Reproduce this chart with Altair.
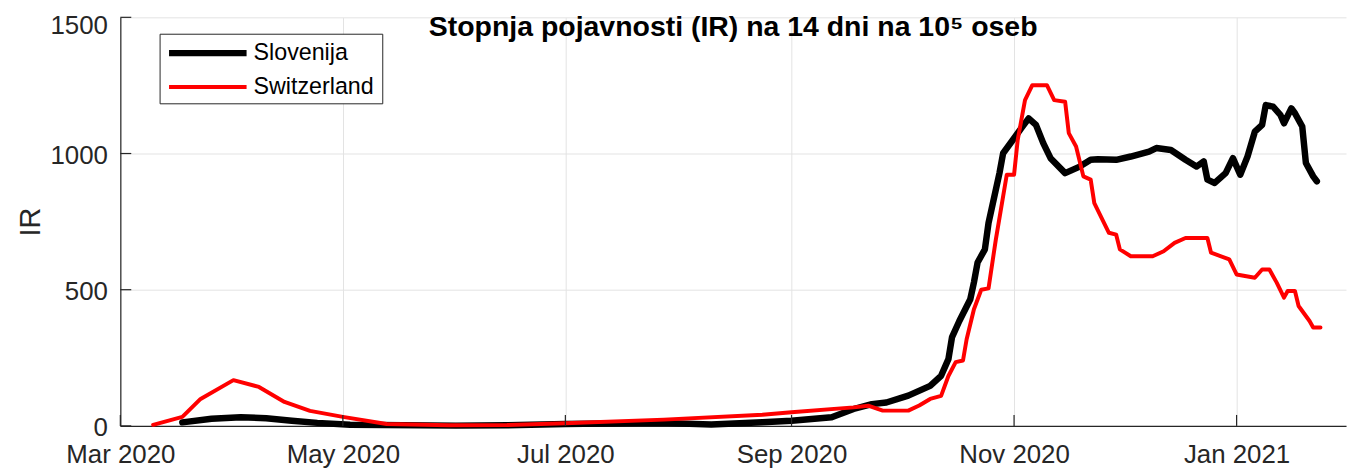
import altair as alt
import pandas as pd

# ---- data ----
sl_dates = ["2020-03-18", "2020-03-26", "2020-04-03", "2020-04-10", "2020-04-17", "2020-04-24",
            "2020-05-03", "2020-06-01", "2020-06-15", "2020-07-01", "2020-07-27", "2020-08-10",
            "2020-08-24", "2020-09-01", "2020-09-12", "2020-09-18", "2020-09-23", "2020-09-27",
            "2020-10-03", "2020-10-09", "2020-10-12", "2020-10-14", "2020-10-15", "2020-10-17",
            "2020-10-20", "2020-10-21", "2020-10-22", "2020-10-24", "2020-10-25", "2020-10-28",
            "2020-10-29", "2020-11-01", "2020-11-03", "2020-11-05", "2020-11-07", "2020-11-09",
            "2020-11-11", "2020-11-15", "2020-11-19", "2020-11-22", "2020-11-24", "2020-11-29",
            "2020-12-03", "2020-12-08", "2020-12-10", "2020-12-14", "2020-12-18", "2020-12-21",
            "2020-12-23", "2020-12-24", "2020-12-26", "2020-12-29", "2020-12-31", "2021-01-02",
            "2021-01-04", "2021-01-06", "2021-01-08", "2021-01-09", "2021-01-11", "2021-01-13",
            "2021-01-14", "2021-01-16", "2021-01-17", "2021-01-19", "2021-01-20", "2021-01-22",
            "2021-01-23"]
sl_vals = [13, 26, 32, 28, 19, 11,
           4, 1, 2, 7, 11, 5,
           13, 19, 32, 62, 80, 86,
           111, 147, 184, 245, 326, 385,
           465, 527, 600, 648, 745, 928,
           1001, 1056, 1093, 1129, 1105, 1038,
           983, 928, 952, 977, 979, 977,
           989, 1007, 1020, 1013, 977, 952,
           971, 904, 892, 928, 983, 922,
           989, 1080, 1105, 1178, 1172, 1142,
           1111, 1166, 1148, 1099, 965, 916,
           898]

ch_dates = ["2020-03-10", "2020-03-18", "2020-03-23", "2020-04-01", "2020-04-08", "2020-04-15",
            "2020-04-22", "2020-05-01", "2020-05-13", "2020-05-30", "2020-06-15", "2020-07-01",
            "2020-07-28", "2020-08-24", "2020-09-01", "2020-09-18", "2020-09-22", "2020-09-26",
            "2020-10-03", "2020-10-06", "2020-10-09", "2020-10-12", "2020-10-14", "2020-10-16",
            "2020-10-18", "2020-10-19", "2020-10-21", "2020-10-23", "2020-10-25", "2020-10-27",
            "2020-10-30", "2020-11-01", "2020-11-02", "2020-11-04", "2020-11-06", "2020-11-10",
            "2020-11-12", "2020-11-15", "2020-11-16", "2020-11-18", "2020-11-20", "2020-11-22",
            "2020-11-23", "2020-11-27", "2020-11-29", "2020-11-30", "2020-12-03", "2020-12-09",
            "2020-12-12", "2020-12-15", "2020-12-18", "2020-12-24", "2020-12-25", "2020-12-30",
            "2021-01-01", "2021-01-06", "2021-01-08", "2021-01-10", "2021-01-12", "2021-01-14",
            "2021-01-15", "2021-01-17", "2021-01-18", "2021-01-21", "2021-01-22", "2021-01-24"]
ch_vals = [4, 33, 99, 168, 143, 88,
           55, 33, 7, 2, 3, 10,
           23, 41, 50, 68, 74, 56,
           56, 75, 99, 110, 183, 234,
           240, 318, 428, 500, 505, 684,
           922, 922, 1050, 1196, 1251, 1251,
           1196, 1190, 1075, 1026, 916, 904,
           818, 709, 702, 648, 623, 623,
           641, 672, 690, 690, 636, 611,
           556, 544, 574, 574, 526, 471,
           495, 495, 440, 385, 361, 361]

series_names = ["Slovenija", "Switzerland"]
series_colors = ["#000000", "#ff0000"]
series_widths = [6.5, 4]
x_tick_dates = ["2020-03-01", "2020-05-01", "2020-07-01", "2020-09-01", "2020-11-01", "2021-01-01"]
y_tick_vals = [0, 500, 1000, 1500]
title_text = "Stopnja pojavnosti (IR) na 14 dni na 10\u2075 oseb"

# ---- tables ----
df = pd.concat([
    pd.DataFrame({"date": sl_dates, "IR": sl_vals, "country": series_names[0]}),
    pd.DataFrame({"date": ch_dates, "IR": ch_vals, "country": series_names[1]}),
], ignore_index=True)
df_xt = pd.DataFrame({"date": x_tick_dates})
df_yt = pd.DataFrame({"IR": y_tick_vals})
df_one = pd.DataFrame({"t": [title_text]})

W, H = 1233, 411
INK = "#262626"
GRID = "#e3e3e3"

def dt(s):
    y, m, d = (int(v) for v in s.split("-"))
    return alt.DateTime(year=y, month=m, date=d, utc=True)

x_scale = alt.Scale(type="utc", domain=[dt("2020-03-01"), dt("2021-01-31")])
y_scale = alt.Scale(domain=[0, 1500], nice=False)

x_axis = alt.Axis(title=None, values=[dt(s) for s in x_tick_dates],
                  labelExpr="utcFormat(datum.value, '%b %Y')", ticks=False,
                  labelFontSize=26, labelColor=INK, labelPadding=16,
                  domainColor=INK, domainWidth=1.2,
                  grid=True, gridColor=GRID, gridWidth=1,
                  labelFlush=False, labelOverlap=False)
y_axis = alt.Axis(title="IR", values=y_tick_vals, format="d", ticks=False,
                  labelFontSize=26, labelColor=INK, labelPadding=13,
                  labelOffset={"condition": {"test": "datum.value >= 1500", "value": 8},
                               "value": 2},
                  titleFontSize=29, titleFontWeight="normal", titleColor=INK,
                  titlePadding=4, domainColor=INK, domainWidth=1.2,
                  grid=True, gridColor=GRID, gridWidth=1)

lines = alt.Chart(df).mark_line(strokeJoin="round", strokeCap="round").encode(
    x=alt.X("date:T", scale=x_scale, axis=x_axis),
    y=alt.Y("IR:Q", scale=y_scale, axis=y_axis),
    color=alt.Color("country:N", scale=alt.Scale(domain=series_names, range=series_colors),
                    legend=None),
    strokeWidth=alt.StrokeWidth("country:N",
                                scale=alt.Scale(domain=series_names, range=series_widths),
                                legend=None),
)

xticks = alt.Chart(df_xt).mark_rule(color=INK, strokeWidth=1.2).encode(
    x=alt.X("date:T", scale=x_scale, axis=x_axis),
    y=alt.value(H), y2=alt.value(H - 11),
)
yticks = alt.Chart(df_yt).mark_rule(color=INK, strokeWidth=1.2).encode(
    y=alt.Y("IR:Q", scale=y_scale, axis=y_axis),
    x=alt.value(0), x2=alt.value(11),
)
title = alt.Chart(df_one).mark_text(fontSize=28.6, fontWeight="bold", color="#000000",
                                    baseline="alphabetic", align="center").encode(
    text="t:N", x=alt.value(W / 2), y=alt.value(19),
)

# ---- legend drawn by hand (box, line samples, labels) ----
LX, LY, LW, LH = 40, 17, 224, 70
legend_layers = [
    alt.Chart(df_one).mark_rect(fill="#ffffff", stroke=INK, strokeWidth=1).encode(
        x=alt.value(LX), x2=alt.value(LX + LW), y=alt.value(LY), y2=alt.value(LY + LH))
]
for i, (name, col, sw) in enumerate(zip(series_names, series_colors, series_widths)):
    yy = LY + 19 + 34 * i
    legend_layers.append(
        alt.Chart(df_one).mark_rule(color=col, strokeWidth=sw).encode(
            x=alt.value(LX + 9), x2=alt.value(LX + 87), y=alt.value(yy)))
    legend_layers.append(
        alt.Chart(df_one).mark_text(fontSize=23.4, color="#000000", align="left",
                                    baseline="middle").encode(
            text=alt.value(name), x=alt.value(LX + 94), y=alt.value(yy)))

chart = alt.layer(lines, xticks, yticks, title, *legend_layers).properties(
    width=W, height=H,
    autosize=alt.AutoSizeParams(type="none"),
    padding={"left": 113, "top": 8, "right": 3, "bottom": 44},
).configure(font="Liberation Sans").configure_view(stroke=None)

chart.save("out.html", embed_options={"renderer": "svg", "actions": False})
